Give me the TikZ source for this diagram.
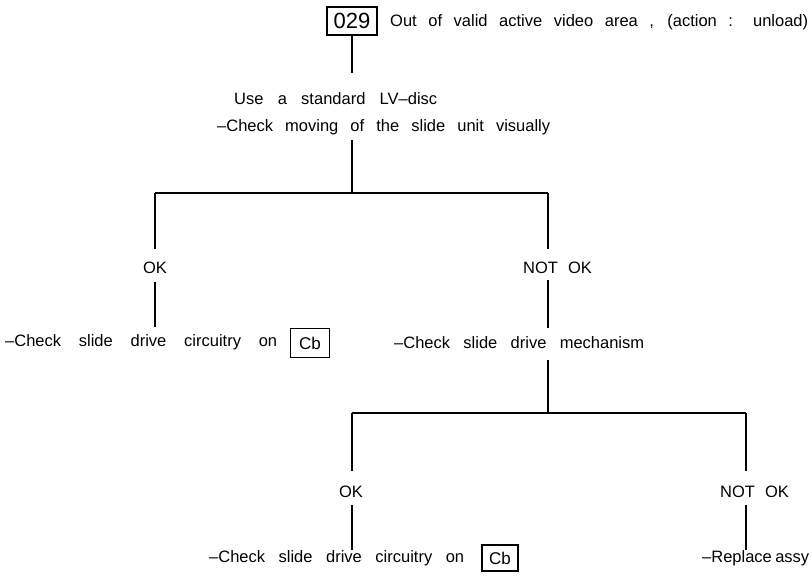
\documentclass[tikz,border=0pt]{standalone}
\usepackage{fontspec}
\setmainfont{Liberation Sans}
\begin{document}
\begin{tikzpicture}[x=1pt,y=-1pt,
  txt/.style={inner sep=0pt,anchor=west,font=\fontsize{16.5}{19}\selectfont},
  lbl/.style={inner sep=0pt,font=\fontsize{16.5}{19}\selectfont},
  codebox/.style={draw,line width=1.6pt,inner sep=0pt,minimum width=#1},
  ln/.style={line width=1.3pt}]
\useasboundingbox (0,0) rectangle (812,579);
% top
\node[codebox=50pt,minimum height=28pt,font=\fontsize{22}{24}\selectfont] (b029) at (352,21) {029};
\node[txt] (title) at (390,22) {\makebox[418pt][s]{Out of valid active video area , (action : unload)}};
\node[txt] (use) at (234,99) {\makebox[203pt][s]{Use a standard LV–disc}};
\node[txt] (chk1) at (217,127) {\makebox[333pt][s]{–Check moving of the slide unit visually}};
\coordinate (j1) at (352,193);
\coordinate (l1) at (155,193);
\coordinate (r1) at (548,193);
\draw[ln] (b029.south) -- (b029.south |- 0,73);
\draw[ln] (j1 |- 0,140) -- (j1);
\draw[ln] (l1) -- (r1);
% left branch
\node[lbl] (ok1) at (155,268) {OK};
\draw[ln] (l1) -- (l1 |- 0,249);
\draw[ln] (l1 |- 0,282) -- (l1 |- 0,327);
\node[txt] (chkL) at (5,342) {\makebox[272pt][s]{–Check slide drive circuitry on}};
\node[codebox=39pt,minimum height=29pt,font=\fontsize{17}{19}\selectfont] (cb1) at (310,343) {Cb};
% right branch
\node[lbl,anchor=west] (nok1) at (523,268) {NOT\hspace{10pt}OK};
\draw[ln] (r1) -- (r1 |- 0,249);
\draw[ln] (r1 |- 0,280) -- (r1 |- 0,328);
\node[txt] (mech) at (394,343) {\makebox[250pt][s]{–Check slide drive mechanism}};
\coordinate (j2) at (548,413);
\coordinate (l2) at (352,413);
\coordinate (r2) at (746,413);
\draw[ln] (j2 |- 0,360) -- (j2);
\draw[ln] (l2) -- (r2);
\node[lbl] (ok2) at (351,492) {OK};
\draw[ln] (l2) -- (l2 |- 0,471);
\draw[ln] (l2 |- 0,505) -- (l2 |- 0,550);
\node[txt] (chkB) at (209,558) {\makebox[255pt][s]{–Check slide drive circuitry on}};
\node[codebox=36pt,minimum height=26pt,font=\fontsize{17}{19}\selectfont] (cb2) at (500,558) {Cb};
\node[lbl,anchor=west] (nok2) at (720,492) {NOT\hspace{10pt}OK};
\draw[ln] (r2) -- (r2 |- 0,471);
\draw[ln] (r2 |- 0,505) -- (r2 |- 0,550);
\node[txt] (repl) at (702,558) {\makebox[107pt][s]{–Replace assy}};
\end{tikzpicture}
\end{document}
